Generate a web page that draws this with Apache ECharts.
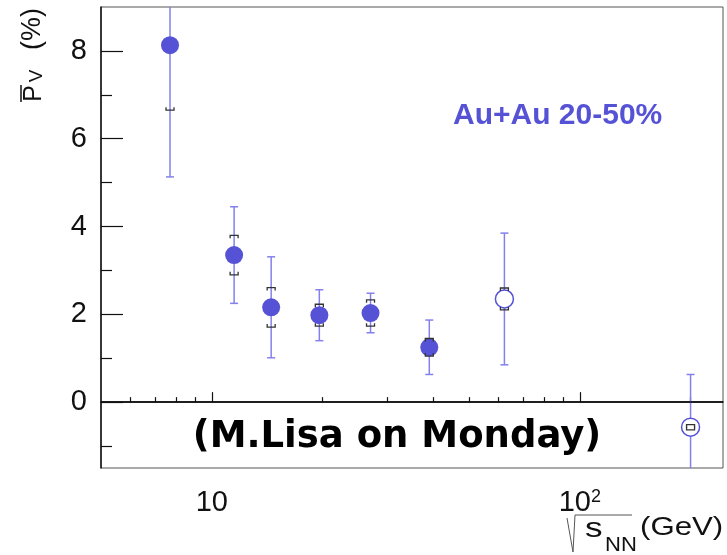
<!DOCTYPE html>
<html>
<head>
<meta charset="utf-8">
<script src="https://cdn.jsdelivr.net/npm/echarts@6/dist/echarts.min.js"></script>
<style>
  html, body { margin: 0; padding: 0; background: #fff; }
  #main { width: 727px; height: 555px; }
</style>
</head>
<body>
<div id="main"></div>
<script type="text/javascript">
  // sqrt(s_NN) in GeV and the polarization in %
  var energy  = [7.7, 11.5, 14.5, 19.6, 27, 39, 62.4, 200];
  var pv      = [8.13, 3.35, 2.16, 1.98, 2.03, 1.25, 2.35, -0.57];
  var statErr = [3.0, 1.1, 1.15, 0.58, 0.45, 0.62, 1.5, 1.2];
  var sysErr  = [1.48, 0.45, 0.45, 0.25, 0.3, 0.2, 0.25, 0.06];
  var filled  = [true, true, true, true, true, true, false, false];

  var yMajor = [0, 2, 4, 6, 8];
  var yMinor = [-1, 1, 3, 5, 7];
  var xMajor = [10, 100];
  var xMinor = [6, 7, 8, 9, 20, 30, 40, 50, 60, 70, 80, 90, 200];

  var markColor = '#5652d6';
  var barColor = '#8481ec';
  var ink = '#111';

  var pts = energy.map(function (e, i) { return [e, pv[i], statErr[i], sysErr[i]]; });
  var fillPts = pts.filter(function (p, i) { return filled[i]; });
  var openPts = pts.filter(function (p, i) { return !filled[i]; });

  var chart = echarts.init(document.getElementById('main'));

  // rotated piece of the y axis title
  function yTitle(text, size, x, y) {
    return {
      type: 'text', x: x, y: y, rotation: Math.PI / 2, z: 10,
      style: { text: text, fontFamily: 'Liberation Sans', fontSize: size, fill: ink,
               align: 'center', verticalAlign: 'middle' }
    };
  }
  // piece of the x axis title (drawn a bit wide, like the original)
  function xTitle(text, size, x, y, sx) {
    return {
      type: 'text', x: x, y: y, scaleX: sx, z: 10,
      style: { text: text, fontFamily: 'Liberation Sans', fontSize: size, fill: ink,
               align: 'left', verticalAlign: 'middle' }
    };
  }

  var option = {
    animation: false,
    grid: {
      left: 101, right: 4, top: 7, bottom: 87,
      show: true, borderColor: '#555', borderWidth: 1
    },
    xAxis: [{
      type: 'log', logBase: 10, min: 5, max: 245,
      axisLine: { lineStyle: { color: ink, width: 1.5 } },
      axisTick: { inside: true, length: 10, customValues: xMajor, lineStyle: { color: ink, width: 1.2 } },
      axisLabel: {
        customValues: xMajor, margin: 20,
        formatter: function (v) {
          var e = Math.round(Math.log10(v));
          if (Math.abs(Math.pow(10, e) - v) > 1e-6 * v) return '';
          return e === 1 ? '{b|10}' : '{b|10}{s|' + e + '}';
        },
        rich: {
          b: { fontFamily: 'Liberation Sans', fontSize: 29, color: ink, verticalAlign: 'bottom' },
          s: { fontFamily: 'Liberation Sans', fontSize: 18, color: ink, verticalAlign: 'top' }
        }
      },
      splitLine: { show: false }
    }, {
      type: 'log', logBase: 10, min: 5, max: 245, position: 'bottom', offset: 0,
      axisLine: { show: false },
      axisTick: { inside: true, length: 5, customValues: xMinor, lineStyle: { color: ink, width: 1.2 } },
      axisLabel: { show: false },
      splitLine: { show: false }
    }],
    yAxis: [{
      type: 'value', min: -1.5, max: 9,
      axisLine: { show: true, lineStyle: { color: ink, width: 1.5 } },
      axisTick: { inside: true, length: 22, customValues: yMajor, lineStyle: { color: ink, width: 1.2 } },
      axisLabel: { customValues: yMajor, fontFamily: 'Liberation Sans', fontSize: 29, color: ink, margin: 14 },
      splitLine: { show: false }
    }, {
      type: 'value', min: -1.5, max: 9, position: 'left', offset: 0,
      axisLine: { show: false },
      axisTick: { inside: true, length: 11, customValues: yMinor, lineStyle: { color: ink, width: 1.2 } },
      axisLabel: { show: false },
      splitLine: { show: false }
    }],
    graphic: [
      {
        type: 'text', x: 453, y: 116, z: 10,
        style: { text: 'Au+Au 20-50%', fontFamily: 'Liberation Sans', fontWeight: 'bold', fontSize: 30,
                 fill: markColor, verticalAlign: 'middle' }
      },
      {
        type: 'text', x: 397, y: 437, z: 10,
        style: { text: '(M.Lisa on Monday)', fontFamily: 'DejaVu Sans', fontWeight: 'bold', fontSize: 37,
                 fill: '#000', align: 'center', verticalAlign: 'middle' }
      },
      // y axis title: P-bar, subscript V, (%)
      yTitle('P', 25, 34, 93.5),
      yTitle('V', 19, 37, 76),
      yTitle('(%)', 27, 33, 29),
      { type: 'line', z: 10, shape: { x1: 21, y1: 85, x2: 21, y2: 102 }, style: { stroke: ink, lineWidth: 1.5 } },
      // x axis title: sqrt(s_NN) (GeV)
      xTitle('s', 27, 585, 530, 1.3),
      xTitle('NN', 21, 605, 545, 1.05),
      xTitle('(GeV)', 26, 640, 528, 1.2),
      { type: 'polyline', z: 10, shape: { points: [[567, 518], [573, 552], [575, 515], [632, 515]] },
        style: { stroke: '#555', lineWidth: 1, fill: null } }
    ],
    series: [
      {
        name: 'stat', type: 'custom', z: 2, clip: true,
        data: pts,
        encode: { x: 0, y: 1 },
        renderItem: function (params, api) {
          var x = api.value(0), y = api.value(1), e = api.value(2);
          var top = api.coord([x, y + e]);
          var bot = api.coord([x, y - e]);
          var st = { stroke: barColor, lineWidth: 1.5 };
          return {
            type: 'group',
            children: [
              { type: 'line', shape: { x1: top[0], y1: top[1], x2: bot[0], y2: bot[1] }, style: st },
              { type: 'line', shape: { x1: top[0] - 4, y1: top[1], x2: top[0] + 4, y2: top[1] }, style: st },
              { type: 'line', shape: { x1: bot[0] - 4, y1: bot[1], x2: bot[0] + 4, y2: bot[1] }, style: st }
            ]
          };
        }
      },
      {
        name: 'filled', type: 'scatter', z: 3,
        data: fillPts.map(function (p) { return [p[0], p[1]]; }),
        symbol: 'circle', symbolSize: 18,
        itemStyle: { color: markColor, opacity: 1 },
        markLine: {
          silent: true, symbol: ['none', 'none'], label: { show: false },
          lineStyle: { color: ink, width: 1.5, type: 'solid' },
          data: [{ yAxis: 0 }]
        }
      },
      {
        name: 'open', type: 'scatter', z: 3,
        data: openPts.map(function (p) { return [p[0], p[1]]; }),
        symbol: 'circle', symbolSize: 18,
        itemStyle: { color: '#fff', borderColor: markColor, borderWidth: 1.5, opacity: 1 }
      },
      {
        name: 'sys', type: 'custom', z: 4, clip: true,
        data: pts,
        encode: { x: 0, y: 1 },
        renderItem: function (params, api) {
          var x = api.value(0), y = api.value(1), s = api.value(3);
          var top = api.coord([x, y + s]);
          var bot = api.coord([x, y - s]);
          var cx = top[0];
          var st = { stroke: '#333', lineWidth: 1.3, fill: null };
          return {
            type: 'group',
            children: [
              { type: 'polyline', shape: { points: [[cx - 4, top[1] + 3], [cx - 4, top[1]], [cx + 4, top[1]], [cx + 4, top[1] + 3]] }, style: st },
              { type: 'polyline', shape: { points: [[cx - 4, bot[1] - 3], [cx - 4, bot[1]], [cx + 4, bot[1]], [cx + 4, bot[1] - 3]] }, style: st }
            ]
          };
        }
      }
    ]
  };

  chart.setOption(option);
</script>
</body>
</html>
